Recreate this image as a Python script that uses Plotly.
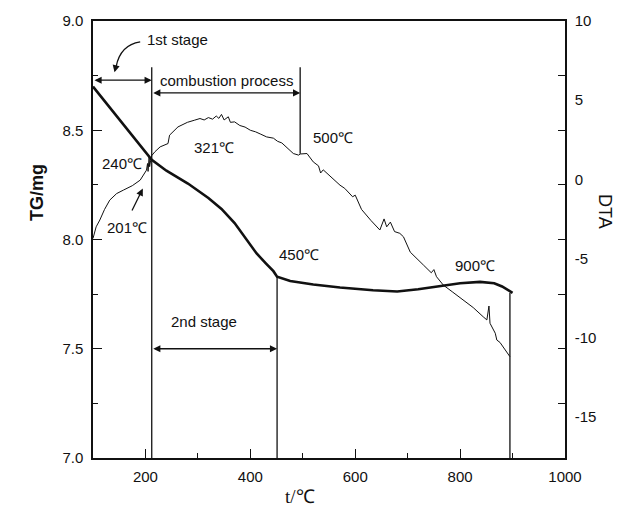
import plotly.graph_objects as go

# ---------------- data ----------------
tg_temp = [100, 125, 150, 175, 200, 212, 240, 281, 320, 345, 370, 389, 412, 430, 444, 451,
           476, 520, 571, 634, 680, 720, 768, 800, 838, 865, 880, 890, 900]
tg_mass = [8.70, 8.625, 8.55, 8.475, 8.40, 8.365, 8.315, 8.256, 8.19, 8.14, 8.075, 8.01, 7.936,
           7.89, 7.855, 7.83, 7.81, 7.794, 7.78, 7.768, 7.762, 7.772, 7.79, 7.80, 7.806,
           7.80, 7.785, 7.77, 7.756]

dta_temp = [100, 106, 113, 122, 132, 145, 158, 175, 190, 197, 202, 204, 205, 207, 208, 210,
            212, 218, 228, 243, 246, 262, 280, 294, 304, 312, 320, 328, 335, 340, 345, 350,
            358, 362, 370, 380, 390, 400, 410, 420, 431, 444, 452, 460, 470, 482, 492, 495,
            508, 520, 530, 534, 539, 555, 571, 580, 595, 600, 612, 630, 647, 655, 660, 667,
            675, 685, 692, 705, 718, 730, 745, 750, 755, 768, 785, 806, 825, 844, 851, 855,
            857, 867, 870, 876, 882, 894, 895]
dta_val = [-3.73, -3.0, -2.57, -1.9, -1.31, -0.9, -0.68, -0.4, -0.05, 0.3, 0.58, 1.0, 0.5,
           1.4, 0.8, 1.21, 1.5, 1.74, 2.05, 2.26, 2.79, 3.31, 3.6, 3.74, 3.84, 3.75, 3.9,
           3.8, 4.0, 3.85, 4.1, 3.75, 3.95, 3.6, 3.63, 3.4, 3.3, 3.1, 3.0, 2.85, 2.68, 2.6,
           2.4, 2.3, 2.0, 1.63, 1.53, 1.6, 1.63, 1.1, 0.85, 0.4, 0.6, 0.1, -0.37, -0.57,
           -1.1, -1.0, -1.9, -2.6, -3.2, -2.5, -3.0, -2.7, -3.3, -3.41, -3.63, -4.6, -5.0,
           -5.41, -5.9, -5.7, -6.15, -6.68, -7.1, -7.62, -8.1, -8.68, -8.88, -8.0, -9.09,
           -9.72, -10.15, -10.3, -10.57, -11.15, -11.2]

x_ticks = [200, 400, 600, 800, 1000]
tg_ticks = [7.0, 7.5, 8.0, 8.5, 9.0]
dta_ticks = [10, 5, 0, -5, -10, -15]

# stage boundaries (temperature, TG top, TG bottom)
stage_lines_t = [212, 451, 495, 895]
stage_lines_top = [8.788, 7.829, 8.788, 7.756]
stage_lines_bot = [7.0, 7.0, 8.393, 7.0]

FONT = "Liberation Sans, Arial, sans-serif"
BLACK = "#111111"

fig = go.Figure()

fig.add_trace(go.Scatter(x=tg_temp, y=tg_mass, mode="lines",
                         line=dict(color=BLACK, width=2.6), yaxis="y", showlegend=False))
fig.add_trace(go.Scatter(x=dta_temp, y=dta_val, mode="lines",
                         line=dict(color=BLACK, width=1), yaxis="y2", showlegend=False))
# invisible trace to anchor the tick-only right axis
fig.add_trace(go.Scatter(x=[100], y=[8], mode="markers", marker=dict(opacity=0),
                         yaxis="y3", showlegend=False, hoverinfo="skip"))

# vertical stage lines
for t, y0, y1 in zip(stage_lines_t, stage_lines_bot, stage_lines_top):
    fig.add_shape(type="line", xref="x", yref="y", x0=t, x1=t, y0=y0, y1=y1,
                  line=dict(color=BLACK, width=1.3))

# double arrows
def darrow(x0, x1, y):
    fig.add_annotation(x=x1, y=y, ax=x0, ay=y, xref="x", yref="y", axref="x", ayref="y",
                       text="", showarrow=True, arrowside="end+start", arrowhead=2,
                       arrowsize=1.1, arrowwidth=1.3, arrowcolor=BLACK)

darrow(100, stage_lines_t[0], 8.729)
darrow(stage_lines_t[0], stage_lines_t[2], 8.671)
darrow(stage_lines_t[0], stage_lines_t[1], 7.50)

# curved arrow from "1st stage"
fig.add_shape(type="path", xref="x", yref="y",
              path="M 190,8.904 Q 152,8.89 144,8.79",
              line=dict(color=BLACK, width=1.3))
fig.add_annotation(x=141, y=8.765, ax=144, ay=8.795, xref="x", yref="y", axref="x", ayref="y",
                   text="", showarrow=True, arrowhead=2, arrowsize=1.1, arrowwidth=1.3,
                   arrowcolor=BLACK)
# arrow from 201 label
fig.add_annotation(x=195, y=8.233, ax=173, ay=8.126, xref="x", yref="y", axref="x", ayref="y",
                   text="", showarrow=True, arrowhead=2, arrowsize=1.1, arrowwidth=1.3,
                   arrowcolor=BLACK)

labels = [
    ("1st stage", 261, 8.916),
    ("combustion process", 355, 8.729),
    ("2nd stage", 312, 7.623),
    ("240\u2103", 155, 8.349),
    ("201\u2103", 164, 8.056),
    ("321\u2103", 331, 8.42),
    ("500\u2103", 558, 8.467),
    ("450\u2103", 493, 7.93),
    ("900\u2103", 829, 7.882),
]
for txt, x, y in labels:
    fig.add_annotation(x=x, y=y, xref="x", yref="y", text=txt, showarrow=False,
                       font=dict(family=FONT, size=15, color=BLACK),
                       xanchor="center", yanchor="middle")

# axis titles
fig.add_annotation(x=25, y=193, xref="paper", yref="paper", text="<b>TG/mg</b>",
                   showarrow=False, textangle=-90,
                   font=dict(family=FONT, size=18, color=BLACK))
fig.add_annotation(x=617, y=211, xref="paper", yref="paper", text="DTA",
                   showarrow=False, textangle=90,
                   font=dict(family=FONT, size=18, color=BLACK))
fig.add_annotation(x=300, y=509, xref="paper", yref="paper", text="t/\u2103",
                   showarrow=False,
                   font=dict(family="Liberation Serif, Times New Roman, serif", size=19,
                             color=BLACK))

W, H = 627, 517
ML, MR, MT, MB = 93, 62, 21, 59
# convert pixel-positioned titles to paper coords
for a in fig.layout.annotations:
    if a.xref == "paper":
        a.x = (a.x - ML) / (W - ML - MR)
        a.y = 1 - (a.y - MT) / (H - MT - MB)

fig.update_layout(
    width=W, height=H,
    margin=dict(l=ML, r=MR, t=MT, b=MB),
    paper_bgcolor="white", plot_bgcolor="white",
    font=dict(family=FONT, size=15, color=BLACK),
    xaxis=dict(range=[100, 1000], tickvals=x_ticks, ticks="inside", ticklen=9, tickwidth=1.3,
               tickcolor=BLACK, minor=dict(dtick=100, tick0=100, ticks="inside", ticklen=5,
                                           tickwidth=1.3, tickcolor=BLACK),
               showline=True, linecolor=BLACK, linewidth=1.5, mirror=True, showgrid=False,
               zeroline=False, tickfont=dict(size=15), ticklabelstandoff=4),
    yaxis=dict(range=[7.0, 9.0], tickvals=tg_ticks, ticktext=[f"{v:.1f}" for v in tg_ticks],
               ticks="inside", ticklen=9, tickwidth=1.3, tickcolor=BLACK,
               minor=dict(dtick=0.25, tick0=7.0, ticks="inside", ticklen=5, tickwidth=1.3,
                          tickcolor=BLACK),
               showline=True, linecolor=BLACK, linewidth=1.5, showgrid=False, zeroline=False,
               tickfont=dict(size=15), ticklabelstandoff=5),
    yaxis2=dict(range=[-17.6, 10], tickvals=dta_ticks, ticktext=[str(v) for v in dta_ticks],
                ticks="", overlaying="y", side="right",
                showline=True, linecolor=BLACK, linewidth=1.5, showgrid=False, zeroline=False,
                tickfont=dict(size=15), ticklabelstandoff=5),
    yaxis3=dict(range=[7.0, 9.0], dtick=0.25, tick0=7.0, ticks="inside", ticklen=7,
                tickwidth=1.3, tickcolor=BLACK, overlaying="y", side="right",
                showticklabels=False, showline=False, showgrid=False, zeroline=False),
    showlegend=False,
)

fig.write_html("out.html")
